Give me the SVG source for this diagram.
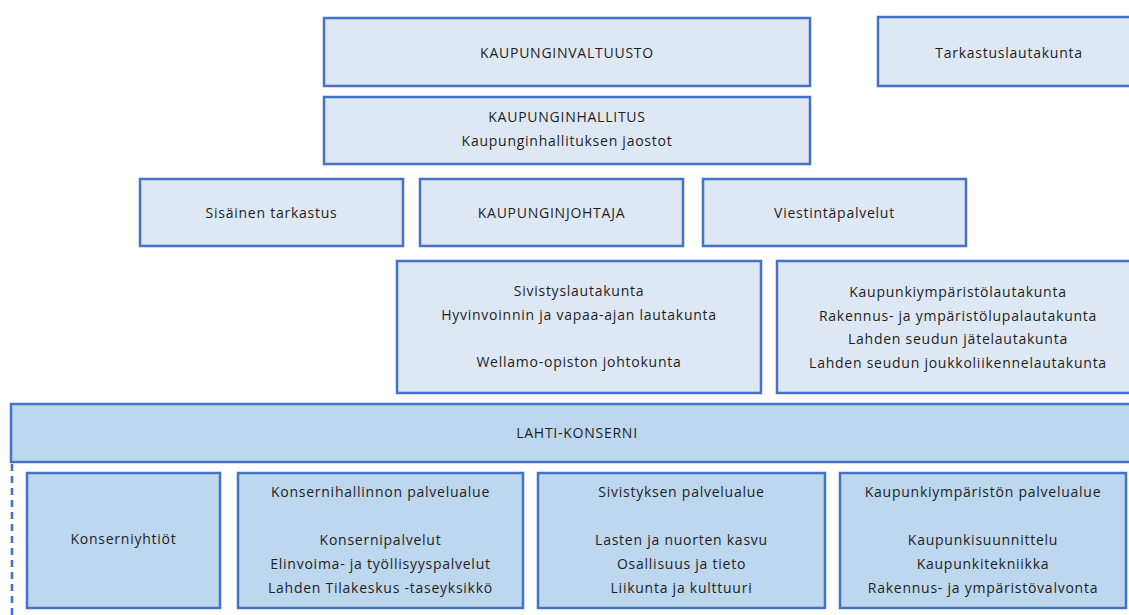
<svg xmlns="http://www.w3.org/2000/svg" width="1129" height="615" viewBox="0 0 1129 615">
<style>
.b{fill:#DEE8F4;stroke:#4472C4;stroke-width:2.5}
.d{fill:#BDD7EE;stroke:#4472C4;stroke-width:2.5}
text{font-family:"Open Sans","Liberation Sans",sans-serif;font-size:14px;fill:#1e1e1e;text-anchor:middle;letter-spacing:0.75px}
</style>
<rect width="1129" height="615" fill="#fff"/>
<g id="connectors">
<line x1="12" y1="464" x2="12" y2="615" stroke="#4472C4" stroke-width="2.6" stroke-dasharray="7 5"/>
</g>
<g id="kaupunginvaltuusto"><rect class="b" x="324" y="18" width="486" height="68"/><text x="567" y="58">KAUPUNGINVALTUUSTO</text></g>
<g id="tarkastuslautakunta"><rect class="b" x="878" y="17" width="262" height="69"/><text x="1009" y="58">Tarkastuslautakunta</text></g>
<g id="kaupunginhallitus"><rect class="b" x="324" y="97" width="486" height="67"/><text x="567" y="122">KAUPUNGINHALLITUS</text><text x="567" y="146">Kaupunginhallituksen jaostot</text></g>
<g id="sisainen"><rect class="b" x="140" y="179" width="263" height="67"/><text x="271.5" y="218">Sisäinen tarkastus</text></g>
<g id="kaupunginjohtaja"><rect class="b" x="420" y="179" width="263" height="67"/><text x="551.5" y="218">KAUPUNGINJOHTAJA</text></g>
<g id="viestinta"><rect class="b" x="703" y="179" width="263" height="67"/><text x="834.5" y="218">Viestintäpalvelut</text></g>
<g id="sivistyslautakunta"><rect class="b" x="397" y="261" width="364" height="132"/><text x="579" y="296">Sivistyslautakunta</text><text x="579" y="320">Hyvinvoinnin ja vapaa-ajan lautakunta</text><text x="579" y="367">Wellamo-opiston johtokunta</text></g>
<g id="kaupunkiymparistolautakunta"><rect class="b" x="777" y="261" width="362" height="132"/><text x="958" y="297">Kaupunkiympäristölautakunta</text><text x="958" y="321">Rakennus- ja ympäristölupalautakunta</text><text x="958" y="344">Lahden seudun jätelautakunta</text><text x="958" y="368">Lahden seudun joukkoliikennelautakunta</text></g>
<g id="lahti-konserni"><rect class="d" x="11" y="404" width="1132" height="58"/><text x="577" y="438">LAHTI-KONSERNI</text></g>
<g id="konserniyhtiot"><rect class="d" x="27" y="473" width="193" height="135"/><text x="123.5" y="544">Konserniyhtiöt</text></g>
<g id="konsernihallinto"><rect class="d" x="238" y="473" width="285" height="135"/><text x="380.5" y="497">Konsernihallinnon palvelualue</text><text x="380.5" y="545">Konsernipalvelut</text><text x="380.5" y="569">Elinvoima- ja työllisyyspalvelut</text><text x="380.5" y="593">Lahden Tilakeskus -taseyksikkö</text></g>
<g id="sivistys"><rect class="d" x="538" y="473" width="287" height="135"/><text x="681.5" y="497">Sivistyksen palvelualue</text><text x="681.5" y="545">Lasten ja nuorten kasvu</text><text x="681.5" y="569">Osallisuus ja tieto</text><text x="681.5" y="593">Liikunta ja kulttuuri</text></g>
<g id="kaupunkiymparisto"><rect class="d" x="840" y="473" width="286" height="135"/><text x="983" y="497">Kaupunkiympäristön palvelualue</text><text x="983" y="545">Kaupunkisuunnittelu</text><text x="983" y="569">Kaupunkitekniikka</text><text x="983" y="593">Rakennus- ja ympäristövalvonta</text></g>
</svg>
